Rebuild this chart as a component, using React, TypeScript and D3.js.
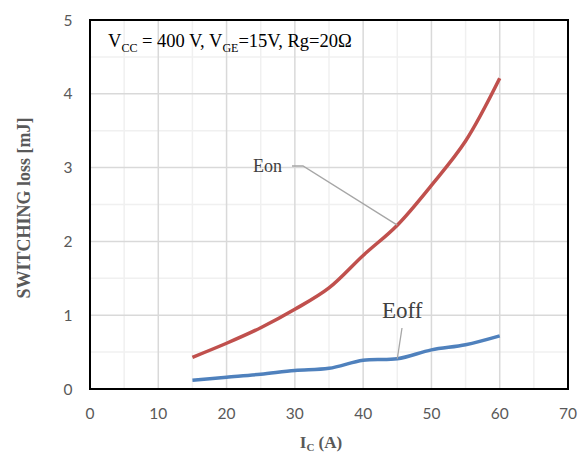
// @ts-nocheck
import React, { useEffect, useRef } from "react";
import * as d3 from "d3";

const current = [15, 20, 25, 30, 35, 40, 45, 50, 55, 60];
const eon = [0.43, 0.62, 0.83, 1.08, 1.37, 1.81, 2.22, 2.76, 3.36, 4.21];
const eoff = [0.12, 0.16, 0.2, 0.25, 0.28, 0.39, 0.41, 0.53, 0.6, 0.72];
const xTicks = [0, 10, 20, 30, 40, 50, 60, 70];
const yTicks = [0, 1, 2, 3, 4, 5];

function App() {
  const ref = useRef(null);

  useEffect(() => {
    const width = 582,
      height = 455;
    const margin = { top: 20, right: 14, bottom: 66, left: 90 };
    const svg = d3.select(ref.current);
    svg.selectAll("*").remove();

    const x = d3.scaleLinear().domain([0, 70]).range([margin.left, width - margin.right]);
    const y = d3.scaleLinear().domain([0, 5]).range([height - margin.bottom, margin.top]);

    // grid - minor then major
    const g = svg.append("g");
    d3.range(5, 70, 10).forEach((v) => {
      g.append("line")
        .attr("x1", x(v)).attr("x2", x(v))
        .attr("y1", y(0)).attr("y2", y(5))
        .attr("stroke", "#f0f0f0").attr("stroke-width", 1.5);
    });
    d3.range(0.5, 5, 1).forEach((v) => {
      g.append("line")
        .attr("x1", x(0)).attr("x2", x(70))
        .attr("y1", y(v)).attr("y2", y(v))
        .attr("stroke", "#f0f0f0").attr("stroke-width", 1.5);
    });
    xTicks.slice(1, -1).forEach((v) => {
      g.append("line")
        .attr("x1", x(v)).attr("x2", x(v))
        .attr("y1", y(0)).attr("y2", y(5))
        .attr("stroke", "#d9d9d9").attr("stroke-width", 1.5);
    });
    yTicks.slice(1, -1).forEach((v) => {
      g.append("line")
        .attr("x1", x(0)).attr("x2", x(70))
        .attr("y1", y(v)).attr("y2", y(v))
        .attr("stroke", "#d9d9d9").attr("stroke-width", 1.5);
    });

    // frame
    svg.append("rect")
      .attr("x", x(0)).attr("y", y(5))
      .attr("width", x(70) - x(0)).attr("height", y(0) - y(5))
      .attr("fill", "none").attr("stroke", "#000").attr("stroke-width", 2);

    // tick labels
    svg.selectAll(".xt").data(xTicks).enter().append("text")
      .attr("x", (d) => x(d)).attr("y", 419)
      .attr("text-anchor", "middle")
      .style("font-family", "Lato, 'Open Sans', sans-serif")
      .style("font-size", "15.5px").attr("fill", "#595959")
      .text((d) => d);
    svg.selectAll(".yt").data(yTicks).enter().append("text")
      .attr("x", 68).attr("y", (d) => y(d) + 5.5)
      .attr("text-anchor", "middle")
      .style("font-family", "Lato, 'Open Sans', sans-serif")
      .style("font-size", "15.5px").attr("fill", "#595959")
      .text((d) => d);

    // axis titles
    svg.append("text")
      .attr("transform", "translate(30,208) rotate(-90)")
      .attr("text-anchor", "middle")
      .style("font-family", "'Liberation Serif', serif")
      .style("font-size", "18px").style("font-weight", "bold")
      .attr("fill", "#595959")
      .text("SWITCHING loss [mJ]");
    const xt = svg.append("text")
      .attr("x", 321).attr("y", 448)
      .attr("text-anchor", "middle")
      .style("font-family", "'Liberation Serif', serif")
      .style("font-size", "17px").style("font-weight", "bold")
      .attr("fill", "#595959");
    xt.append("tspan").text("I");
    xt.append("tspan").attr("dy", 3).style("font-size", "11px").text("C");
    xt.append("tspan").attr("dy", -3).text(" (A)");

    // condition annotation
    const ann = svg.append("text")
      .attr("x", 108).attr("y", 47)
      .style("font-family", "'Liberation Serif', serif")
      .style("font-size", "18.5px").attr("fill", "#000");
    ann.append("tspan").text("V");
    ann.append("tspan").attr("dy", 5).style("font-size", "12px").text("CC");
    ann.append("tspan").attr("dy", -5).text(" = 400 V, V");
    ann.append("tspan").attr("dy", 5).style("font-size", "12px").text("GE");
    ann.append("tspan").attr("dy", -5).text("=15V, Rg=20Ω");

    // lines
    const line = d3.line()
      .x((d) => x(d[0]))
      .y((d) => y(d[1]))
      .curve(d3.curveCatmullRom.alpha(0.5));
    svg.append("path")
      .datum(current.map((c, i) => [c, eon[i]]))
      .attr("d", line).attr("fill", "none")
      .attr("stroke", "#C0504D").attr("stroke-width", 3.5);
    svg.append("path")
      .datum(current.map((c, i) => [c, eoff[i]]))
      .attr("d", line).attr("fill", "none")
      .attr("stroke", "#4F81BD").attr("stroke-width", 3.5);

    // callouts
    svg.append("polyline")
      .attr("points", `${292},${166} ${303},${166} ${x(45)},${y(eon[6])}`)
      .attr("fill", "none").attr("stroke", "#a6a6a6").attr("stroke-width", 1.3);
    svg.append("text")
      .attr("x", 253).attr("y", 172)
      .style("font-family", "'Liberation Serif', serif")
      .style("font-size", "18px").attr("fill", "#404040")
      .text("Eon");
    svg.append("line")
      .attr("x1", 402).attr("y1", 328)
      .attr("x2", x(45)).attr("y2", y(eoff[6]))
      .attr("stroke", "#a6a6a6").attr("stroke-width", 1.3);
    svg.append("text")
      .attr("x", 382).attr("y", 318)
      .style("font-family", "'Liberation Serif', serif")
      .style("font-size", "23px").attr("fill", "#404040")
      .text("Eoff");
  }, []);

  return (
    <svg
      ref={ref}
      width={582}
      height={455}
      style={{ position: "absolute", left: 0, top: 0, background: "#fff" }}
    />
  );
}

export default App;
